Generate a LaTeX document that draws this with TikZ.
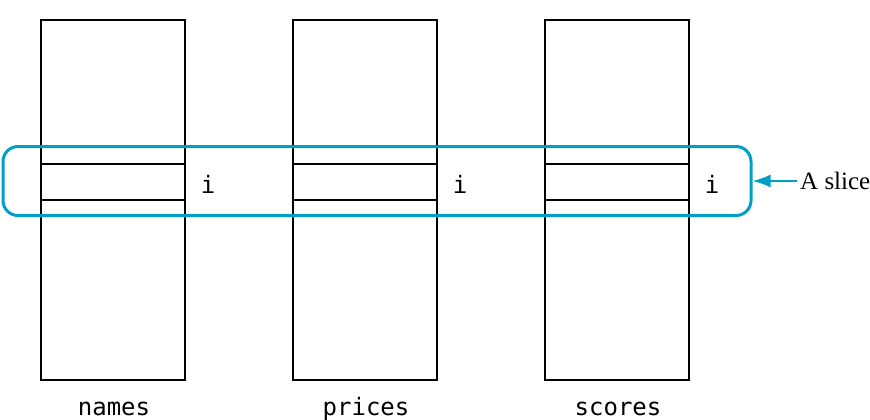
\documentclass[tikz,border=0pt]{standalone}
\usepackage{fontspec}
\setmainfont{Liberation Serif}
\setmonofont{DejaVu Sans Mono}
\usetikzlibrary{arrows.meta}
\definecolor{slicecol}{RGB}{0,160,198}
\tikzset{
  col/.style={draw=black, line width=1.5pt},
  rowline/.style={draw=black, line width=1.5pt},
  slicebox/.style={draw=slicecol, line width=3pt, rounded corners=15pt},
  idx/.style={font=\ttfamily\fontsize{24}{26}\selectfont, inner sep=0pt},
  lbl/.style={font=\ttfamily\fontsize{24}{26}\selectfont, inner sep=0pt, anchor=base},
  note/.style={font=\fontsize{25}{28}\selectfont, inner sep=0pt, anchor=west},
  ptr/.style={draw=slicecol, line width=2pt, -{Latex[length=18pt,width=13pt]}}
}
\begin{document}
\begin{tikzpicture}[x=1pt,y=-1pt]
\useasboundingbox (0,0) rectangle (870,420);
% columns
\foreach \n/\x in {a/41,b/293,c/545}{
  \draw[col] (\x,20) rectangle ++(144,360);
  \draw[rowline] (\x,164) -- ++(144,0);
  \draw[rowline] (\x,200) -- ++(144,0);
}
\node[idx] (ia) at (208,184) {i};
\node[idx] (ib) at (460,184) {i};
\node[idx] (ic) at (712,184) {i};
\node[lbl] (la) at (114,415) {names};
\node[lbl] (lb) at (366,415) {prices};
\node[lbl] (lc) at (618,415) {scores};
% slice
\node[slicebox, minimum width=748pt, minimum height=69pt, inner sep=0pt] (slice) at (377,181) {};
\node[note] (an) at (800,181) {A slice};
\draw[ptr] (an.west) ++(-3,0) coordinate (ae) -- (slice.east);
\end{tikzpicture}
\end{document}
